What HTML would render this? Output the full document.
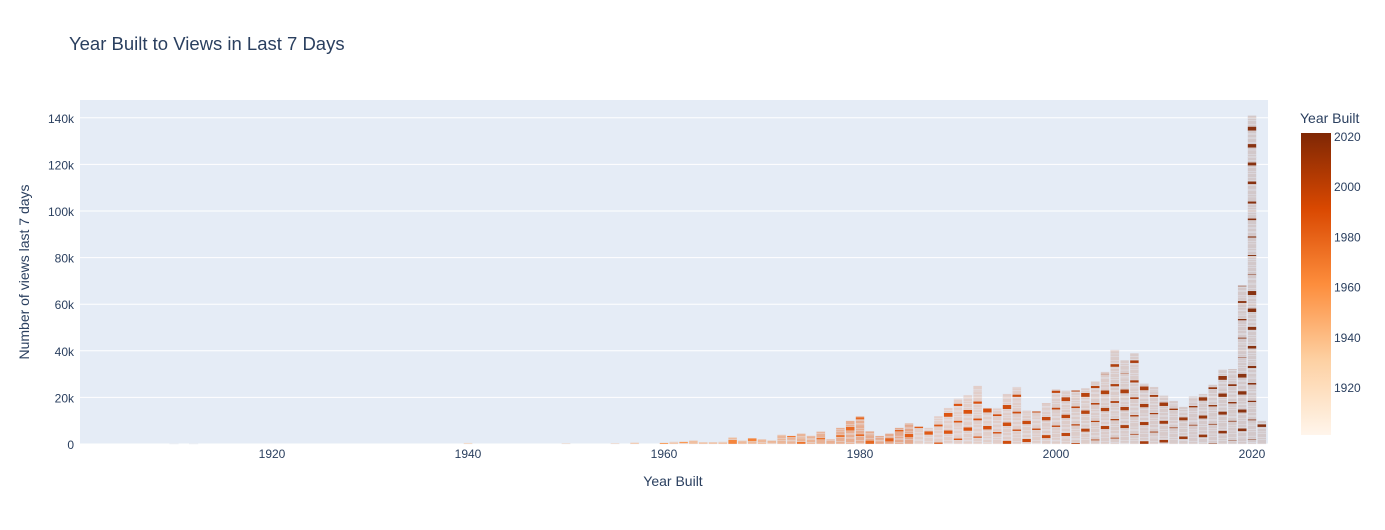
<!DOCTYPE html>
<html><head><meta charset="utf-8"><style>
body{margin:0;background:#fff;font-family:"Liberation Sans",sans-serif}
</style></head><body>
<svg id="chart" width="1385" height="525" xmlns="http://www.w3.org/2000/svg" font-family="Liberation Sans, sans-serif">
<defs><linearGradient id="cb" x1="0" y1="1" x2="0" y2="0">
<stop offset="0" stop-color="#fff5eb"/><stop offset="0.25" stop-color="#fdd0a2"/><stop offset="0.5" stop-color="#fd8d3c"/><stop offset="0.75" stop-color="#d94801"/><stop offset="1" stop-color="#7f2704"/></linearGradient></defs>
<text x="69" y="50" font-size="18.5" fill="#2a3f5f">Year Built to Views in Last 7 Days</text>
<rect x="80" y="100" width="1188" height="344" fill="#e5ecf6"/>
<g id="grid"></g><g id="bars"></g><g id="axes"></g>
<text x="673" y="486" font-size="14" fill="#2a3f5f" text-anchor="middle">Year Built</text>
<text transform="translate(29,272) rotate(-90)" font-size="14" fill="#2a3f5f" text-anchor="middle">Number of views last 7 days</text>
<text x="1300" y="123" font-size="14" fill="#2a3f5f">Year Built</text>
<rect x="1301" y="133" width="30" height="302" fill="url(#cb)"/>
<g id="cbticks"></g>
</svg>
<script>
const years=[1910,1912,1940,1950,1955,1957,1960,1961,1962,1963,1964,1965,1966,1967,1968,1969,1970,1971,1972,1973,1974,1975,1976,1977,1978,1979,1980,1981,1982,1983,1984,1985,1986,1987,1988,1989,1990,1991,1992,1993,1994,1995,1996,1997,1998,1999,2000,2001,2002,2003,2004,2005,2006,2007,2008,2009,2010,2011,2012,2013,2014,2015,2016,2017,2018,2019,2020,2021];
const views=[0.2,0.2,0.5,0.3,0.3,0.8,0.5,1,1,1.5,0.8,0.8,1,3,1.5,2.5,2,1.5,4,3.5,4.5,3.5,5.5,2,7,10,12,5.5,3.5,4.5,7,9,7.5,7,12,15.5,19.5,21,25,15.5,15.5,21.5,24.5,14.5,14,17.5,23.5,23,23,24,27,31,40.5,36,39,26,24.5,21,18.5,16,20.5,21.5,25.5,32,32,68,141,10];
const yTicks=[0,20,40,60,80,100,120,140];
const xTicks=[1920,1940,1960,1980,2000,2020];
const cbTicks=[1920,1940,1960,1980,2000,2020];
const NS="http://www.w3.org/2000/svg";
const X=y=>272+(y-1920)*9.8, Y=v=>444-v*2.33;
const C=y=>(137+(2020-y)*2.51);
function mk(t,a,p){const e=document.createElementNS(NS,t);for(const k in a)e.setAttribute(k,a[k]);document.getElementById(p).appendChild(e);return e;}
function col(y){const s=[[255,245,235],[253,208,162],[253,141,60],[217,72,1],[127,39,4]];let t=Math.max(0,Math.min(1,(y-1902)/119))*4,i=Math.min(3,Math.floor(t)),f=t-i;return 'rgb('+s[i].map((c,j)=>Math.round(c+(s[i+1][j]-c)*f)).join(',')+')';}
yTicks.forEach(v=>{const l=mk('line',{x1:80,x2:1268,y1:Y(v),y2:Y(v),stroke:'#fff','stroke-width':1},'grid');

const t=mk('text',{x:74,y:Y(v)+5,'font-size':12,fill:'#2a3f5f','text-anchor':'end'},'axes');t.textContent=v?v+'k':'0';
});
xTicks.forEach(v=>{const t=mk('text',{x:X(v),y:458,'font-size':12,fill:'#2a3f5f','text-anchor':'middle'},'axes');t.textContent=v;
});
cbTicks.forEach(v=>{const t=mk('text',{x:1334,y:C(v)+4,'font-size':12,fill:'#2a3f5f'},'cbticks');t.textContent=v;
});
years.forEach((yr,i)=>{const tot=views[i];let acc=0,k=0;const c=col(yr);
while(acc<tot-1e-6){let h=Math.min(tot-acc,0.4+((yr*7+k*13)%9)*0.18);const hot=((yr+k*5)%7)==0;
const r=mk('rect',{x:X(yr)-4.4,y:Y(acc+h),width:8.8,height:Math.max(h*2.33,0.5),fill:c,'fill-opacity':hot?0.95:(yr>1985?0.18:0.45),stroke:'#e5ecf6','stroke-width':0.3},'bars');
acc+=h;k++;}});
</script>
</body></html>
